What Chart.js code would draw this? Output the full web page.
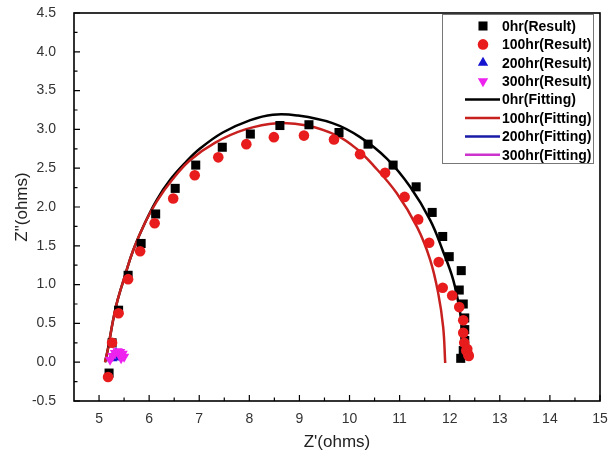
<!DOCTYPE html>
<html lang="en">
<head>
<meta charset="UTF-8">
<title>Nyquist plot</title>
<script src="https://cdn.jsdelivr.net/npm/chart.js"></script>
<style>
  html, body { margin: 0; padding: 0; background: #fff; }
  #wrap { width: 609px; height: 461px; }
</style>
</head>
<body>
<div id="wrap"><canvas id="nyquist" width="609" height="461"></canvas></div>
<script>
const res0X = [5.20, 5.26, 5.39, 5.58, 5.84, 6.13, 6.52, 6.93, 7.46, 8.02, 8.61, 9.19, 9.79, 10.37, 10.87, 11.33, 11.65, 11.86, 11.99, 12.23, 12.19, 12.27, 12.30, 12.30, 12.30, 12.27, 12.22];
const res0Y = [-0.14, 0.25, 0.67, 1.12, 1.53, 1.91, 2.24, 2.54, 2.77, 2.94, 3.05, 3.06, 2.96, 2.81, 2.54, 2.26, 1.93, 1.62, 1.36, 1.18, 0.93, 0.75, 0.57, 0.42, 0.28, 0.15, 0.05];

const res100X = [5.18, 5.26, 5.39, 5.58, 5.82, 6.11, 6.48, 6.91, 7.38, 7.94, 8.49, 9.09, 9.69, 10.21, 10.71, 11.10, 11.37, 11.59, 11.78, 11.86, 12.05, 12.19, 12.27, 12.27, 12.29, 12.33, 12.37, 12.35, 12.38];
const res100Y = [-0.19, 0.25, 0.63, 1.07, 1.43, 1.79, 2.11, 2.41, 2.64, 2.81, 2.90, 2.92, 2.87, 2.68, 2.44, 2.13, 1.84, 1.54, 1.29, 0.96, 0.86, 0.71, 0.54, 0.38, 0.25, 0.15, 0.10, 0.17, 0.08];

const res200X = [5.26, 5.30, 5.34, 5.38, 5.42];
const res200Y = [0.05, 0.10, 0.12, 0.09, 0.06];

const res300X = [5.22, 5.27, 5.32, 5.37, 5.42, 5.47, 5.50, 5.44];
const res300Y = [0.03, 0.08, 0.12, 0.14, 0.13, 0.11, 0.07, 0.05];

// fitted curves
const fit0X = [5.12, 5.18, 5.28, 5.37, 5.52, 5.68, 5.92, 6.15, 6.42, 6.72, 7.01, 7.47, 8.02, 8.47, 8.95, 9.66, 10.21, 10.75, 11.21, 11.61, 11.86, 12.07, 12.21, 12.27, 12.27];
const fit0Y = [0.00, 0.18, 0.54, 0.80, 1.12, 1.44, 1.80, 2.09, 2.35, 2.57, 2.75, 2.96, 3.12, 3.19, 3.18, 3.08, 2.90, 2.62, 2.26, 1.83, 1.44, 1.06, 0.63, 0.28, 0.00];

const fit100X = [5.12, 5.18, 5.28, 5.37, 5.52, 5.68, 5.92, 6.15, 6.46, 6.81, 7.32, 7.92, 8.55, 9.15, 9.75, 10.14, 10.47, 10.94, 11.35, 11.61, 11.77, 11.87, 11.91];
const fit100Y = [0.00, 0.18, 0.54, 0.80, 1.12, 1.44, 1.80, 2.07, 2.35, 2.60, 2.83, 3.00, 3.08, 3.05, 2.92, 2.75, 2.54, 2.18, 1.74, 1.32, 0.89, 0.45, -0.01];

const fit200X = [5.22, 5.28, 5.34, 5.40, 5.44];
const fit200Y = [0.03, 0.09, 0.11, 0.08, 0.03];

const fit300X = [5.20, 5.27, 5.35, 5.43, 5.48];
const fit300Y = [0.03, 0.10, 0.13, 0.10, 0.03];

const xTickValues = [5, 6, 7, 8, 9, 10, 11, 12, 13, 14, 15];
const yTickValues = [-0.5, 0.0, 0.5, 1.0, 1.5, 2.0, 2.5, 3.0, 3.5, 4.0, 4.5];

const seriesNames = ['0hr(Result)', '100hr(Result)', '200hr(Result)', '300hr(Result)',
                     '0hr(Fitting)', '100hr(Fitting)', '200hr(Fitting)', '300hr(Fitting)'];

function pts(xs, ys) {
    return xs.map((x, i) => ({ x: x, y: ys[i] }));
}

// frame + inward tick marks
const framePlugin = {
    id: 'frame',
    beforeDatasetsDraw(chart) {
        const ctx = chart.ctx;
        const a = chart.chartArea;
        const xs = chart.scales.x, ys = chart.scales.y;
        ctx.save();
        ctx.strokeStyle = '#000';
        ctx.lineWidth = 1.6;
        ctx.strokeRect(a.left, a.top, a.right - a.left, a.bottom - a.top);
        ctx.lineWidth = 1.2;
        ctx.beginPath();
        for (let i = 0; i < xTickValues.length; i++) {
            const px = xs.getPixelForValue(xTickValues[i]);
            ctx.moveTo(px, a.bottom);
            ctx.lineTo(px, a.bottom - 6);
            if (i < xTickValues.length - 1) {
                const mx = xs.getPixelForValue((xTickValues[i] + xTickValues[i + 1]) / 2);
                ctx.moveTo(mx, a.bottom);
                ctx.lineTo(mx, a.bottom - 3.5);
            }
        }
        for (let i = 0; i < yTickValues.length; i++) {
            const py = ys.getPixelForValue(yTickValues[i]);
            ctx.moveTo(a.left, py);
            ctx.lineTo(a.left + 6, py);
            if (i < yTickValues.length - 1) {
                const my = ys.getPixelForValue((yTickValues[i] + yTickValues[i + 1]) / 2);
                ctx.moveTo(a.left, my);
                ctx.lineTo(a.left + 3.5, my);
            }
        }
        ctx.stroke();
        ctx.restore();
    }
};

// legend box inside the plot
const legendPlugin = {
    id: 'boxLegend',
    afterDraw(chart) {
        const ctx = chart.ctx;
        ctx.save();
        ctx.strokeStyle = '#777';
        ctx.lineWidth = 1;
        ctx.strokeRect(442.5, 14.5, 151, 149);
        ctx.font = 'bold 14px "Liberation Sans", Arial, sans-serif';
        ctx.textBaseline = 'middle';
        ctx.fillStyle = '#000';
        seriesNames.forEach((name, i) => {
            const ds = chart.data.datasets.find(d => d.label === name);
            const y = 26 + i * 18.4;
            if (ds.showLine) {
                ctx.strokeStyle = ds.borderColor;
                ctx.lineWidth = 2.5;
                ctx.beginPath();
                ctx.moveTo(465, y);
                ctx.lineTo(500, y);
                ctx.stroke();
            } else {
                ctx.fillStyle = ds.backgroundColor;
                ctx.strokeStyle = ds.borderColor;
                Chart.helpers.drawPoint(ctx, {
                    pointStyle: ds.pointStyle,
                    rotation: ds.rotation || 0,
                    radius: ds.pointRadius,
                    borderWidth: 0
                }, 483, y);
            }
            ctx.fillStyle = '#000';
            ctx.fillText(name, 502, y + 1);
        });
        ctx.restore();
    }
};

const tickFont = { family: '"Liberation Sans", Arial, sans-serif', size: 14 };
const titleFont = { family: '"Liberation Sans", Arial, sans-serif', size: 17 };

new Chart(document.getElementById('nyquist'), {
    type: 'scatter',
    data: {
        datasets: [
            { label: '300hr(Result)', data: pts(res300X, res300Y), pointStyle: 'triangle', rotation: 180,
              pointRadius: 6, backgroundColor: '#ee22ee', borderColor: '#ee22ee', borderWidth: 0, order: 0 },
            { label: '200hr(Result)', data: pts(res200X, res200Y), pointStyle: 'triangle',
              pointRadius: 6, backgroundColor: '#1515d0', borderColor: '#1515d0', borderWidth: 0, order: 1 },
            { label: '100hr(Result)', data: pts(res100X, res100Y), pointStyle: 'circle',
              pointRadius: 5.3, backgroundColor: '#e81c1c', borderColor: '#e81c1c', borderWidth: 0, order: 2 },
            { label: '0hr(Result)', data: pts(res0X, res0Y), pointStyle: 'rect',
              pointRadius: 6.4, backgroundColor: '#000', borderColor: '#000', borderWidth: 0, order: 3 },
            { label: '300hr(Fitting)', data: pts(fit300X, fit300Y), showLine: true, pointRadius: 0,
              borderColor: '#cc33cc', borderWidth: 2.5, tension: 0.4, order: 4 },
            { label: '200hr(Fitting)', data: pts(fit200X, fit200Y), showLine: true, pointRadius: 0,
              borderColor: '#1a1aa8', borderWidth: 2.5, tension: 0.4, order: 5 },
            { label: '100hr(Fitting)', data: pts(fit100X, fit100Y), showLine: true, pointRadius: 0,
              borderColor: '#c8201f', borderWidth: 2.5, tension: 0.4, order: 6 },
            { label: '0hr(Fitting)', data: pts(fit0X, fit0Y), showLine: true, pointRadius: 0,
              borderColor: '#000', borderWidth: 2.5, tension: 0.4, order: 7 }
        ]
    },
    options: {
        responsive: false,
        animation: false,
        layout: { padding: { top: 13, right: 9, left: 0, bottom: 0 } },
        plugins: {
            legend: { display: false },
            tooltip: { enabled: false }
        },
        scales: {
            x: {
                type: 'linear',
                min: 4.5,
                max: 15,
                grid: { display: false },
                border: { display: false },
                afterBuildTicks: s => { s.ticks = xTickValues.map(v => ({ value: v })); },
                afterFit: s => { s.height = 60; s.paddingLeft = 0; s.paddingRight = 0; },
                ticks: { font: tickFont, color: '#333', padding: 2, maxRotation: 0,
                         callback: v => String(v) },
                title: { display: true, text: "Z'(ohms)", font: titleFont, color: '#222',
                         padding: { top: 6, bottom: 8 } }
            },
            y: {
                type: 'linear',
                min: -0.5,
                max: 4.5,
                grid: { display: false },
                border: { display: false },
                afterBuildTicks: s => { s.ticks = yTickValues.map(v => ({ value: v })); },
                afterFit: s => { s.width = 74; s.paddingTop = 0; s.paddingBottom = 0; },
                ticks: { font: tickFont, color: '#333', padding: 10,
                         callback: v => Number(v).toFixed(1) },
                title: { display: true, text: 'Z"(ohms)', font: titleFont, color: '#222',
                         padding: { top: 12, bottom: 4 } }
            }
        }
    },
    plugins: [framePlugin, legendPlugin]
});
</script>
</body>
</html>
